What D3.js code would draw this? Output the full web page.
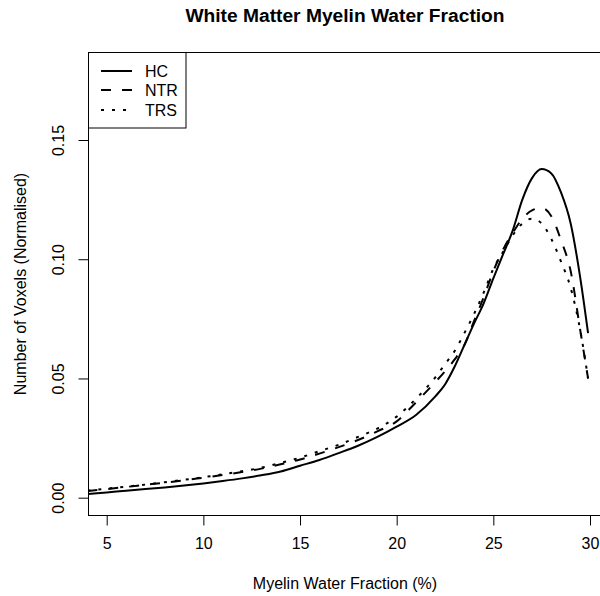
<!DOCTYPE html>
<html>
<head>
<meta charset="utf-8">
<script src="https://cdn.jsdelivr.net/npm/d3@7"></script>
<style>
    body { margin: 0; background: #fff; }
    text { font-family: 'Liberation Sans', Arial, sans-serif; fill: #000; }
</style>
</head>
<body>
<div id="container"></div>
<script>
// Data
var mwf = [4, 5, 6, 7, 8, 9, 10, 11, 12, 13, 14, 15, 16, 17, 18, 19, 20, 21, 22,
    22.5, 23, 23.5, 24, 24.5, 25, 25.5, 26, 26.5, 27, 27.5, 28, 28.5, 29, 29.5, 29.9];

var hc = [0.0015, 0.0022, 0.0029, 0.0036, 0.0043, 0.0051, 0.0060, 0.0070, 0.0081, 0.0094,
    0.0110, 0.0134, 0.0158, 0.0187, 0.0218, 0.0255, 0.0298, 0.0347, 0.0425,
    0.0475, 0.0550, 0.0640, 0.0730, 0.0815, 0.0920, 0.1020, 0.1120, 0.1250, 0.1340,
    0.1378, 0.1360, 0.1280, 0.1150, 0.0920, 0.0690];

var ntr = [0.0028, 0.0036, 0.0045, 0.0054, 0.0063, 0.0073, 0.0084, 0.0095, 0.0108, 0.0122,
    0.0140, 0.0160, 0.0185, 0.0212, 0.0242, 0.0278, 0.0320, 0.0400, 0.0485,
    0.0530, 0.0580, 0.0640, 0.0740, 0.0840, 0.0950, 0.1040, 0.1110, 0.1170, 0.1205,
    0.1215, 0.1180, 0.1080, 0.0950, 0.0700, 0.0500];

var trs = [0.0030, 0.0038, 0.0046, 0.0055, 0.0065, 0.0075, 0.0086, 0.0098, 0.0111, 0.0126,
    0.0146, 0.0168, 0.0195, 0.0222, 0.0255, 0.0290, 0.0340, 0.0415, 0.0505,
    0.0560, 0.0615, 0.0690, 0.0770, 0.0860, 0.0960, 0.1030, 0.1100, 0.1150, 0.1170,
    0.1150, 0.1085, 0.0990, 0.0880, 0.0700, 0.0500];

var groups = ['HC', 'NTR', 'TRS'];
var xTicks = [5, 10, 15, 20, 25, 30];
var yTicks = [0, 0.05, 0.10, 0.15];

// Size variables
var width = 600;
var height = 596;
var box = { left: 88.5, top: 52.5, right: 603, bottom: 515.5 };

// SVG container
var svg = d3.select('#container')
    .append('svg')
    .attr('width', width)
    .attr('height', height);

// Scales
var xScale = d3.scaleLinear()
    .domain([5, 30])
    .range([106.7, 590]);

var yScale = d3.scaleLinear()
    .domain([0, 0.15])
    .range([497.7, 140]);

// Title
svg.append('text')
    .attr('x', 345)
    .attr('y', 22)
    .attr('text-anchor', 'middle')
    .style('font-size', '19.2px')
    .style('font-weight', 'bold')
    .text('White Matter Myelin Water Fraction');

// x axis
var xAxis = d3.axisBottom(xScale)
    .tickValues(xTicks)
    .tickSize(10)
    .tickPadding(12)
    .tickFormat(d3.format('d'));

svg.append('g')
    .attr('id', 'x-axis')
    .attr('transform', `translate(0, ${box.bottom})`)
    .call(xAxis)
    .call((g) => g.select('.domain').remove())
    .selectAll('text')
    .style('font-size', '16px')
    .style('font-family', "'Liberation Sans', Arial, sans-serif");

// y axis (labels rotated like R's default)
var yAxis = d3.axisLeft(yScale)
    .tickValues(yTicks)
    .tickSize(10)
    .tickFormat(d3.format('.2f'));

var yg = svg.append('g')
    .attr('id', 'y-axis')
    .attr('transform', `translate(${box.left}, 0)`)
    .call(yAxis)
    .call((g) => g.select('.domain').remove());

yg.selectAll('.tick text')
    .attr('x', 0)
    .attr('dy', null)
    .attr('text-anchor', 'middle')
    .attr('transform', 'translate(-25, 0) rotate(-90)')
    .style('font-size', '16px')
    .style('font-family', "'Liberation Sans', Arial, sans-serif");

svg.selectAll('.tick line').attr('stroke', '#000');

// Axis titles
svg.append('text')
    .attr('x', 345)
    .attr('y', 589)
    .attr('text-anchor', 'middle')
    .style('font-size', '16px')
    .text('Myelin Water Fraction (%)');

svg.append('text')
    .attr('transform', 'translate(26, 284) rotate(-90)')
    .attr('text-anchor', 'middle')
    .style('font-size', '16px')
    .text('Number of Voxels (Normalised)');

// Clip to the plot box
svg.append('clipPath')
    .attr('id', 'plot-clip')
    .append('rect')
    .attr('x', box.left)
    .attr('y', box.top)
    .attr('width', box.right - box.left)
    .attr('height', box.bottom - box.top);

var line = d3.line()
    .x((d) => xScale(d[0]))
    .y((d) => yScale(d[1]))
    .curve(d3.curveMonotoneX);

var series = [
    { name: 'HC', values: hc, dash: null },
    { name: 'NTR', values: ntr, dash: '10,11' },
    { name: 'TRS', values: trs, dash: '3,8' }
];

svg.append('g')
    .attr('clip-path', 'url(#plot-clip)')
    .selectAll('path')
    .data(series)
    .enter()
    .append('path')
    .attr('d', (s) => line(s.values.map((v, i) => [mwf[i], v])))
    .attr('fill', 'none')
    .attr('stroke', '#000')
    .attr('stroke-width', 2)
    .attr('stroke-dasharray', (s) => s.dash);

// Plot box
svg.append('rect')
    .attr('x', box.left)
    .attr('y', box.top)
    .attr('width', box.right - box.left)
    .attr('height', box.bottom - box.top)
    .attr('fill', 'none')
    .attr('stroke', '#000')
    .attr('stroke-width', 1);

// Legend
var legend = svg.append('g').attr('class', 'legend');

legend.append('rect')
    .attr('x', box.left)
    .attr('y', box.top)
    .attr('width', 97.5)
    .attr('height', 75.5)
    .attr('fill', '#fff')
    .attr('stroke', '#000');

var legendY = [71, 90, 110];

series.forEach((s, i) => {
    legend.append('line')
        .attr('x1', 101)
        .attr('x2', 132)
        .attr('y1', legendY[i])
        .attr('y2', legendY[i])
        .attr('stroke', '#000')
        .attr('stroke-width', 2)
        .attr('stroke-dasharray', s.dash);
    legend.append('text')
        .attr('x', 145)
        .attr('y', legendY[i] + 6)
        .style('font-size', '16px')
        .text(groups[i]);
});
</script>
</body>
</html>
